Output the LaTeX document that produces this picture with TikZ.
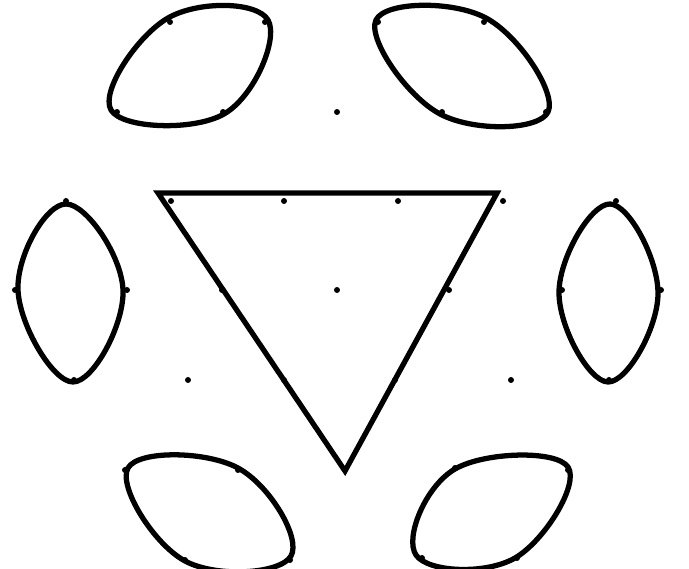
\documentclass[tikz,border=0pt]{standalone}
\usepackage{tikz}

\begin{document}
\begin{tikzpicture}[
    x=0.1mm,
    y=-0.1mm,
    lens/.style={draw=black, line width=1.5pt, line join=round},
    tri/.style={draw=black, line width=1.5pt, line join=miter},
    dot/.style={circle, fill=black, inner sep=0pt, minimum size=0.6mm}
]
\useasboundingbox (0,0) rectangle (689,569);
\foreach \px/\py [count=\i] in {170/22, 265/22, 378/22, 484/22,
    117/112, 223/112, 337/112, 442/112, 546/112,
    66/201, 171/201, 284/201, 398/201, 503/201, 616/201,
    15/290, 127/290, 222/290, 337/290, 449/290, 562/290, 661/290,
    74/380, 188/380, 284/380, 395/380, 511/380, 609/380,
    125/470, 238/470, 345/470, 455/468, 568/470,
    185/560, 290/560, 422/558, 517/558}
  \node[dot] (d\i) at (\px,\py) {};
\coordinate (tl) at (158,193);
\coordinate (tr) at (497,193);
\coordinate (tb) at (345,471);
\draw[tri] (tl) -- (tr) -- (tb) -- cycle;
\draw[lens] plot[smooth cycle, tension=0.7] coordinates {(111,110) (168,18) (268,20) (224,114)};
\draw[lens] plot[smooth cycle, tension=0.7] coordinates {(376,20) (486,18) (548,112) (440,114)};
\draw[lens] plot[smooth cycle, tension=0.7] coordinates {(66,204) (18,290) (73,382) (123,290)};
\draw[lens] plot[smooth cycle, tension=0.7] coordinates {(610,204) (559,292) (608,382) (658,294)};
\draw[lens] plot[smooth cycle, tension=0.7] coordinates {(128,468) (238,468) (291,556) (185,561)};
\draw[lens] plot[smooth cycle, tension=0.7] coordinates {(455,469) (568,467) (515,558) (416,555)};
\end{tikzpicture}
\end{document}
